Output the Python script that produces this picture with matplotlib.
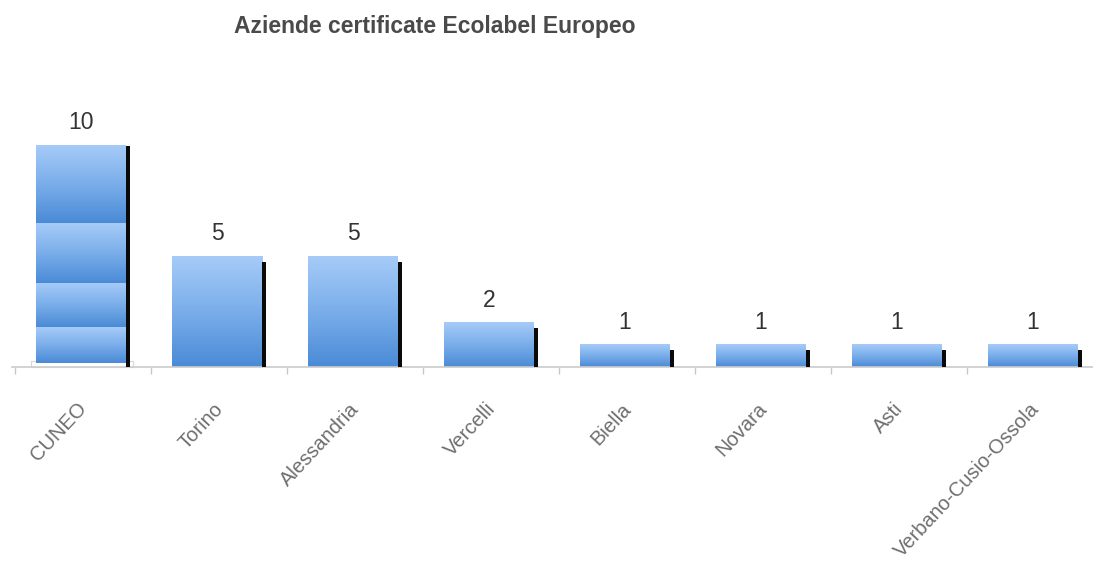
import numpy as np
import matplotlib
matplotlib.use("Agg")
import matplotlib.pyplot as plt
from matplotlib.colors import LinearSegmentedColormap
from matplotlib.patches import Rectangle

categories = ["CUNEO", "Torino", "Alessandria", "Vercelli", "Biella", "Novara", "Asti", "Verbano-Cusio-Ossola"]
values = [10, 5, 5, 2, 1, 1, 1, 1]
title = "Aziende certificate Ecolabel Europeo"

W, H = 1093, 564
fig = plt.figure(figsize=(W / 100, H / 100), dpi=100)
left_px, right_px, base_px, top_px = 12, 1093, 367, 100
ax = fig.add_axes([left_px / W, 1 - base_px / H, (right_px - left_px) / W, (base_px - top_px) / H])

cat_w = 136.0
unit_px = 22.2
x0 = -0.5 - 3 / cat_w
x1 = x0 + (right_px - left_px) / cat_w
y1 = (base_px - top_px) / unit_px

x = np.arange(len(categories))
bw = 90 / cat_w
off = -2 / cat_w
sw = 4 / cat_w

cmap = LinearSegmentedColormap.from_list("g", ["#4a8ad6", "#7aaeea", "#a6cbf8"])
grad = np.linspace(0, 1, 256).reshape(-1, 1)

bars = ax.bar(x + off, values, width=bw, color="none", edgecolor="none", zorder=2)
for i, (b, v) in enumerate(zip(bars, values)):
    bx, by, bwid, bh = b.get_x(), b.get_y(), b.get_width(), b.get_height()
    if v >= 10:
        # white floor under the tallest bar
        ax.add_patch(Rectangle((bx - 5 / cat_w, 0), bwid + 12 / cat_w, 0.25, facecolor="white",
                               edgecolor="#d8d8d8", linewidth=0.8, zorder=1.5, clip_on=False))
        bands = [0.2, 1.8, 3.8, 6.5, v]
        for k in range(len(bands) - 1):
            ax.imshow(np.linspace(0.05, 0.8, 256).reshape(-1, 1), cmap=cmap, aspect="auto",
                      extent=[bx, bx + bwid, bands[k], bands[k + 1]], origin="lower", zorder=2)
    else:
        ax.imshow(grad, cmap=cmap, aspect="auto", extent=[bx, bx + bwid, by, by + bh],
                  origin="lower", zorder=2)
    soff = 0.05 if v >= 10 else 0.25
    ax.bar(bx + bwid + sw / 2, v - soff, width=sw, color="#0a0a0a", zorder=3)
    ax.text(bx + bwid / 2, v + 0.72, str(v), ha="center", va="baseline",
            fontsize=16.5, family="Liberation Sans", color="#333333", zorder=4)

ax.set_xticks([])
ax.set_xticks(np.arange(-0.5, len(categories), 1), minor=True)
ax.tick_params(axis="x", which="minor", length=5, color="#c8c8c8", width=1, labelbottom=False)
ax.set_yticks([])
for s in ["top", "right", "left"]:
    ax.spines[s].set_visible(False)
ax.spines["bottom"].set_color("#cccccc")
ax.spines["bottom"].set_linewidth(1.2)

for i, c in enumerate(categories):
    ax.text(i - 0.045, -1.45, c, rotation=47, ha="right", va="top", rotation_mode="anchor",
            fontsize=14.5, family="Liberation Sans", color="#6e6e6e", clip_on=False)

ax.set_xlim(x0, x1)
ax.set_ylim(0, y1)

fig.text(435 / W, 1 - 33 / H, title, ha="center", va="baseline", fontsize=16.5, fontweight="bold",
         family="Liberation Sans", color="#4a4a4a")

fig.savefig("out.png", dpi=100)
